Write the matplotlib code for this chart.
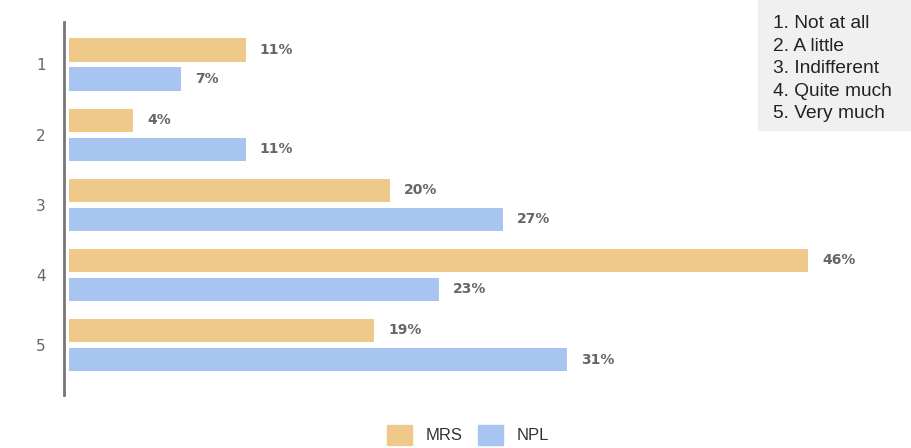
import numpy as np
import matplotlib.pyplot as plt
from matplotlib.patches import Patch

# Data
categories = ["1", "2", "3", "4", "5"]
mrs = [11, 4, 20, 46, 19]
npl = [7, 11, 27, 23, 31]
answer_key = ["1. Not at all", "2. A little", "3. Indifferent", "4. Quite much", "5. Very much"]

mrs_color = "#EFC98A"
npl_color = "#A8C4F0"

fig = plt.figure(figsize=(9.12, 4.48), dpi=100)
ax = fig.add_axes([64 / 912, 1 - 395 / 448, (900 - 64) / 912, (395 - 22) / 448])

y = np.arange(len(categories))
h = 0.33
off = 0.207
b1 = ax.barh(y - off, mrs, height=h, color=mrs_color, left=0)
b2 = ax.barh(y + off, npl, height=h, color=npl_color, left=0)

lbl = dict(padding=10, fontsize=10, fontweight="semibold", color="#666666")
ax.bar_label(b1, labels=[f"{v}%" for v in mrs], **lbl)
ax.bar_label(b2, labels=[f"{v}%" for v in npl], **lbl)

ax.set_xlim(-0.3, 51.7)
ax.set_ylim(4 + 0.713, -0.606)
ax.set_yticks(y)
ax.set_yticklabels(categories, fontsize=11, color="#666666")
ax.tick_params(axis="y", length=0, pad=13)
ax.set_xticks([])
for s in ["top", "right", "bottom"]:
    ax.spines[s].set_visible(False)
ax.spines["left"].set_color("#777777")
ax.spines["left"].set_linewidth(2)

# answer key box in the top right
fig.patches.append(plt.Rectangle((758 / 912, 1 - 130 / 448), 154 / 912, 130 / 448,
                                 transform=fig.transFigure, color="#F0F0F0", zorder=0))
fig.text(773 / 912, 1 - 15 / 448, "\n".join(answer_key), fontsize=13.8,
         family="Liberation Sans", color="#222222", va="top", ha="left", linespacing=1.43)

handles = [Patch(color=mrs_color, label="MRS"), Patch(color=npl_color, label="NPL")]
fig.legend(handles=handles, loc="lower center", bbox_to_anchor=(0.513, -0.027), ncol=2,
           frameon=False, prop={"family": "Liberation Sans", "size": 12},
           handlelength=1.5, handleheight=1.5, handletextpad=0.85, columnspacing=0.9,
           labelcolor="#333333")

plt.savefig("out.png")
